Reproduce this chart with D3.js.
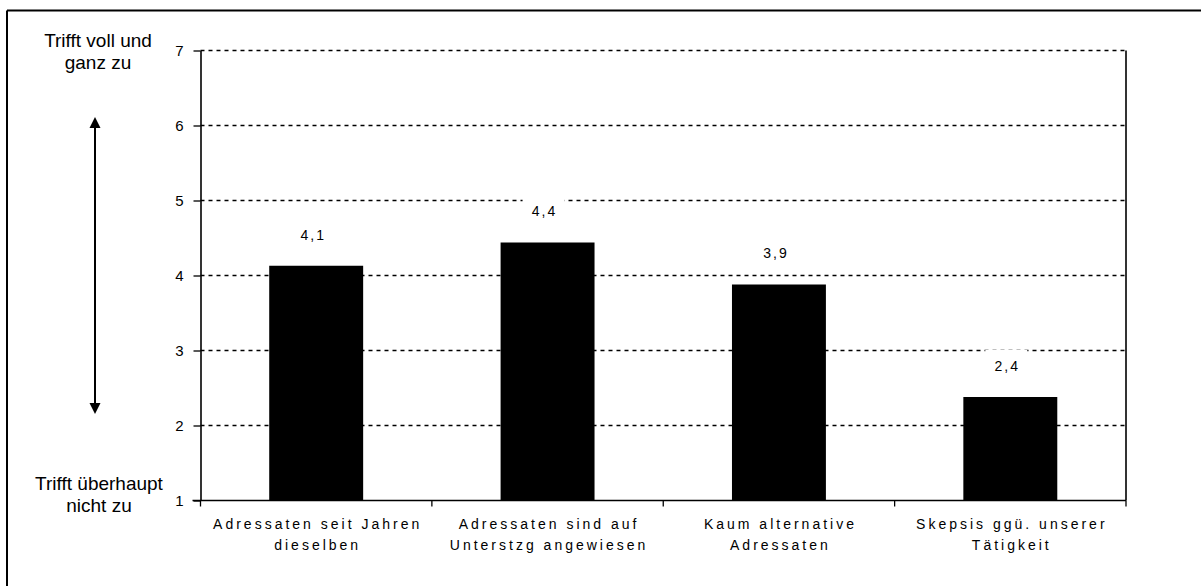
<!DOCTYPE html>
<html><head><meta charset="utf-8">
<script src="https://cdn.jsdelivr.net/npm/d3@7"></script>
<style>
html,body{margin:0;padding:0;background:#fff;}
svg{display:block;font-family:"Liberation Sans",Arial,sans-serif;}
</style></head>
<body><svg id="c" width="1201" height="586"></svg>
<script>
const categories = [
  ["Adressaten seit Jahren", "dieselben"],
  ["Adressaten sind auf", "Unterstzg angewiesen"],
  ["Kaum alternative", "Adressaten"],
  ["Skepsis ggü. unserer", "Tätigkeit"]
];
const values = [4.13, 4.44, 3.88, 2.38];
const valueLabels = ["4,1", "4,4", "3,9", "2,4"];
const yTicks = [1, 2, 3, 4, 5, 6, 7];
const topNote = ["Trifft voll und", "ganz zu"];
const bottomNote = ["Trifft überhaupt", "nicht zu"];

const svg = d3.select("#c");
const L = 200.5, R = 1126, T = 50.5, B = 500.5;

// outer frame (top and left visible)
svg.append("line").attr("x1", 7).attr("x2", 1201).attr("y1", 10.5).attr("y2", 10.5)
  .attr("stroke", "#000").attr("stroke-width", 2);
svg.append("line").attr("x1", 7).attr("x2", 7).attr("y1", 10.5).attr("y2", 586)
  .attr("stroke", "#000").attr("stroke-width", 2);

const y = d3.scaleLinear().domain([1, 7]).range([B, T]);
const keys = categories.map(c => c.join(" "));
const pi = 0.594;
const x = d3.scaleBand().domain(keys).range([L, R]).paddingInner(pi).paddingOuter(pi / 2);

// gridlines
svg.append("g").selectAll("line").data(yTicks.filter(v => v > 1)).join("line")
  .attr("x1", L).attr("x2", R).attr("y1", d => y(d)).attr("y2", d => y(d))
  .attr("stroke", "#000").attr("stroke-width", 1.3).attr("stroke-dasharray", "4,4");

// right border
svg.append("line").attr("x1", R).attr("x2", R).attr("y1", T).attr("y2", B)
  .attr("stroke", "#333").attr("stroke-width", 2);

// bars
svg.append("g").selectAll("rect").data(values).join("rect")
  .attr("x", (d, i) => x(keys[i])).attr("width", x.bandwidth())
  .attr("y", d => y(d)).attr("height", d => y(1) - y(d))
  .attr("fill", "#000");

// y axis
const yAxis = d3.axisLeft(y).tickValues(yTicks).tickSize(7).tickSizeOuter(0).tickPadding(10)
  .tickFormat(d3.format("d"));
const gy = svg.append("g").attr("transform", `translate(${L},0)`).call(yAxis);
gy.select(".domain").attr("stroke", "#000").attr("stroke-width", 1.6);
gy.selectAll(".tick line").attr("stroke", "#000").attr("stroke-width", 1.3);
gy.selectAll(".tick text").attr("font-size", 15).attr("fill", "#000")
  .attr("font-family", "Liberation Sans, Arial, sans-serif");

// x axis line and boundary ticks
svg.append("line").attr("x1", L - 8).attr("x2", R).attr("y1", B).attr("y2", B)
  .attr("stroke", "#000").attr("stroke-width", 1.6);
const step = x.step();
const bounds = keys.map(k => x(k) - step * pi / 2).concat([R]);
svg.append("g").selectAll("line").data(bounds).join("line")
  .attr("x1", d => d).attr("x2", d => d).attr("y1", B).attr("y2", B + 6)
  .attr("stroke", "#000").attr("stroke-width", 1.3);

// category labels
const cl = svg.append("g").attr("font-size", 14).attr("fill", "#000")
  .style("letter-spacing", "3px");
categories.forEach((lines, i) => {
  const cx = x(keys[i]) + x.bandwidth() / 2 + 1.5;
  lines.forEach((t, j) => {
    cl.append("text").attr("x", cx).attr("y", 529 + j * 21)
      .attr("text-anchor", "middle").text(t);
  });
});

// value labels with white background
const vl = svg.append("g");
values.forEach((v, i) => {
  const cx = x(keys[i]) + x.bandwidth() / 2 - 4;
  const cy = y(v) - 31;
  vl.append("rect").attr("x", cx - 21).attr("y", cy - 16).attr("width", 42).attr("height", 32)
    .attr("fill", "#fff");
  vl.append("text").attr("x", cx + 1).attr("y", cy).attr("dy", "0.35em")
    .attr("text-anchor", "middle").attr("font-size", 14).style("letter-spacing", "2px")
    .text(valueLabels[i]);
});

// arrow
const ax = 95, aTop = 117, aBot = 414;
svg.append("line").attr("x1", ax).attr("x2", ax).attr("y1", aTop + 8).attr("y2", aBot - 8)
  .attr("stroke", "#000").attr("stroke-width", 2);
svg.append("path").attr("d", `M${ax},${aTop} L${ax - 5.5},${aTop + 11} L${ax + 5.5},${aTop + 11} Z`).attr("fill", "#000");
svg.append("path").attr("d", `M${ax},${aBot} L${ax - 5.5},${aBot - 11} L${ax + 5.5},${aBot - 11} Z`).attr("fill", "#000");

// side notes
const notes = svg.append("g").attr("font-size", 19).attr("text-anchor", "middle").attr("fill", "#000");
topNote.forEach((t, j) => notes.append("text").attr("x", 98).attr("y", 47 + j * 21.5).text(t));
bottomNote.forEach((t, j) => notes.append("text").attr("x", 99).attr("y", 490 + j * 21.5).text(t));
</script></body></html>
